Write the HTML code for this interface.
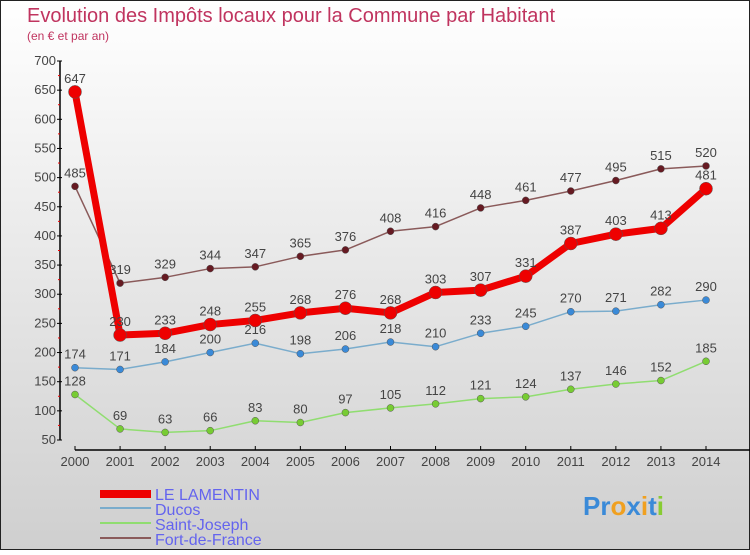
<!DOCTYPE html>
<html><head><meta charset="utf-8"><style>
body{margin:0;width:750px;height:550px;overflow:hidden;font-family:"Liberation Sans",sans-serif}
</style></head><body>
<svg width="750" height="550" xmlns="http://www.w3.org/2000/svg">
<defs><linearGradient id="bg" x1="0" y1="0" x2="0" y2="1"><stop offset="0" stop-color="#ffffff"/><stop offset="1" stop-color="#cfcfcf"/></linearGradient></defs>
<rect x="0.5" y="0.5" width="749" height="549" fill="url(#bg)" stroke="#222"/>
<text x="27" y="22" font-size="20" fill="#c0345f">Evolution des Impôts locaux pour la Commune par Habitant</text>
<text x="27" y="40" font-size="12" fill="#c0345f">(en € et par an)</text>
<g id="axes"></g>
<g id="series"></g>
<g>
<rect x="100" y="490" width="51" height="8" fill="#e00"/>
<text x="155" y="500" font-size="16" fill="#6464ee">LE LAMENTIN</text>
<rect x="100" y="507" width="51" height="2" fill="#7aaccc"/>
<text x="155" y="515" font-size="16" fill="#6464ee">Ducos</text>
<rect x="100" y="522" width="51" height="2" fill="#90dd70"/>
<text x="155" y="530" font-size="16" fill="#6464ee">Saint-Joseph</text>
<rect x="100" y="537" width="51" height="2" fill="#8a5a5a"/>
<text x="155" y="545" font-size="16" fill="#6464ee">Fort-de-France</text>
</g>
<g font-size="26" font-weight="bold">
<text x="583" y="515"><tspan fill="#3a8ad8">Pr</tspan><tspan fill="#f0a020">o</tspan><tspan fill="#3a8ad8">x</tspan><tspan fill="#f0a020">i</tspan><tspan fill="#3a8ad8">t</tspan><tspan fill="#88cc33">i</tspan></text>
</g>
</svg>
<script>
const years=[2000,2001,2002,2003,2004,2005,2006,2007,2008,2009,2010,2011,2012,2013,2014];
const yTicks=[50,100,150,200,250,300,350,400,450,500,550,600,650,700];
const lamentin=[647,230,233,248,255,268,276,268,303,307,331,387,403,413,481];
const ducos=[174,171,184,200,216,198,206,218,210,233,245,270,271,282,290];
const saintJoseph=[128,69,63,66,83,80,97,105,112,121,124,137,146,152,185];
const fortDeFrance=[485,319,329,344,347,365,376,408,416,448,461,477,495,515,520];
const NS="http://www.w3.org/2000/svg";
const X=i=>75+i*(706-75)/(years.length-1);
const Y=v=>440-(v-50)*(440-61)/650;
function mk(tag,attrs,parent){const e=document.createElementNS(NS,tag);for(const k in attrs)e.setAttribute(k,attrs[k]);parent.appendChild(e);return e;}
const ax=document.getElementById('axes');
let yl=mk('line',{x1:60,y1:61,x2:60,y2:440,stroke:'#000','stroke-width':1.5},ax);


yTicks.forEach((t,i)=>{
 const tk=mk('line',{x1:57,x2:62,y1:Y(t),y2:Y(t),stroke:'#000'},ax);
 
 
 const tx=mk('text',{x:56,y:Y(t)+4,'font-size':13,fill:'#444','text-anchor':'end'},ax);
 tx.textContent=t;
 
 
 if(i<yTicks.length-1){const m=mk('line',{x1:58,x2:60,y1:Y(t+25),y2:Y(t+25),stroke:'#e00'},ax);
 
 }
});
let xl=mk('line',{x1:75,y1:450,x2:750,y2:450,stroke:'#000','stroke-width':1.5},ax);


years.forEach((yr,i)=>{
 const tk=mk('line',{x1:X(i),x2:X(i),y1:446,y2:450,stroke:'#000'},ax);
 
 
 const tx=mk('text',{x:X(i),y:466,'font-size':13,fill:'#444','text-anchor':'middle'},ax);
 tx.textContent=yr;
 
 
});
const sg=document.getElementById('series');
function series(vals,name,color,w,r,dot){
 const g=mk('g',{},sg);
 
 
 const p=mk('polyline',{points:vals.map((v,i)=>X(i)+','+Y(v)).join(' '),fill:'none',stroke:color,'stroke-width':w,'stroke-linejoin':'round'},g);
 
 
 vals.forEach((v,i)=>{
  const c=mk('circle',{cx:X(i),cy:Y(v),r:r,fill:dot,stroke:'#555','stroke-width':0.5},g);
  
  
  const t=mk('text',{x:X(i),y:Y(v)-9,'font-size':13,fill:'#444','text-anchor':'middle'},g);
  t.textContent=v;
  
  
 });
}
series(saintJoseph,'saint-joseph','#90dd70',1.5,3.5,'#77cc33');
series(ducos,'ducos','#7aaccc',1.5,3.5,'#3a8ad8');
series(fortDeFrance,'fort-de-france','#8a5a5a',1.5,3.5,'#661a22');
series(lamentin,'lamentin','#ee0000',7,6.5,'#ee0000');
</script>
</body></html>
